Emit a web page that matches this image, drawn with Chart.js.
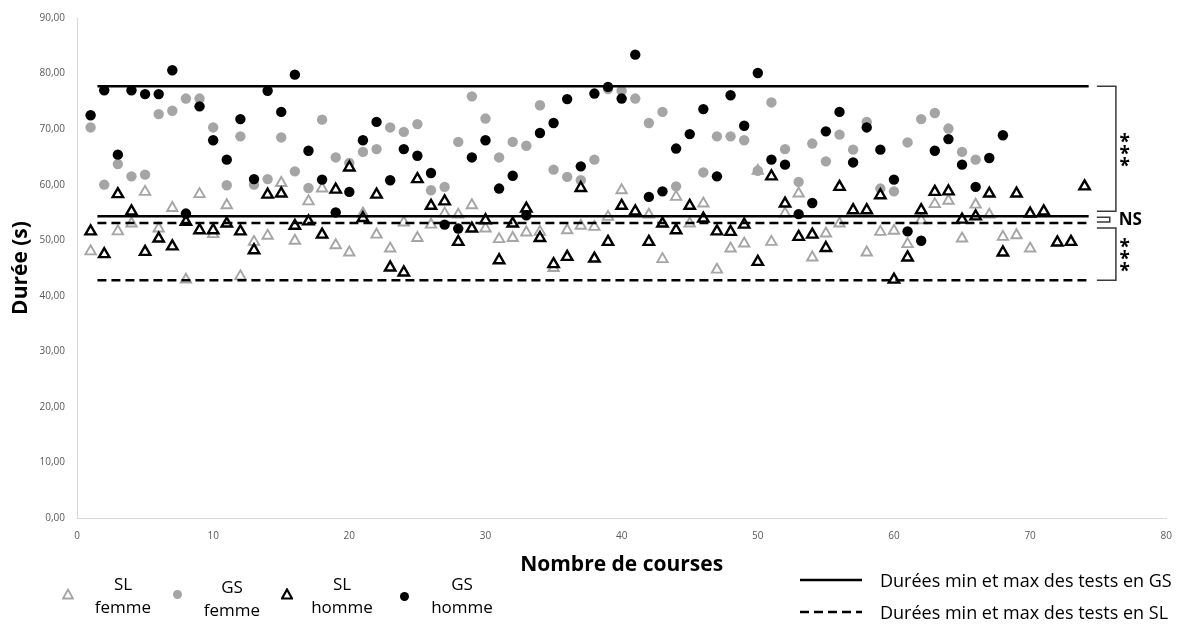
<!DOCTYPE html>
<html lang="fr">
<head>
<meta charset="utf-8">
<title>Durée des courses</title>
<script src="https://cdn.jsdelivr.net/npm/chart.js@4.4.1/dist/chart.umd.min.js"></script>
<style>
  body { margin: 0; background: #fff; font-family: 'Open Sans', sans-serif; }
  #wrap { position: relative; width: 1184px; height: 626px; }
  .leg { position: absolute; top: 572px; text-align: center; font-size: 17px; line-height: 23px; color: #000; transform: translateX(-50%); white-space: nowrap; }
  .mk { position: absolute; }
  .ltxt { position: absolute; left: 880px; font-size: 18px; line-height: 24px; color: #000; white-space: nowrap; }
</style>
</head>
<body>
<div id="wrap">
  <canvas id="chart" width="1184" height="626"></canvas>

  <!-- legend: markers -->
  <svg class="mk" style="left:62px;top:588px" width="12" height="12"><polygon points="6,1.5 11,10.5 1,10.5" fill="#fff" stroke="#a5a5a5" stroke-width="1.8"/></svg>
  <svg class="mk" style="left:172px;top:589px" width="11" height="11"><circle cx="5.5" cy="5.5" r="4.5" fill="#a5a5a5"/></svg>
  <svg class="mk" style="left:281px;top:588px" width="12" height="12"><polygon points="6,1.5 11,10.5 1,10.5" fill="#fff" stroke="#000" stroke-width="2.2"/></svg>
  <svg class="mk" style="left:399px;top:591px" width="11" height="11"><circle cx="5.5" cy="5.5" r="4.5" fill="#000"/></svg>
  <div class="leg" style="left:123px">SL<br>femme</div>
  <div class="leg" style="left:232px;top:575px">GS<br>femme</div>
  <div class="leg" style="left:342px">SL<br>homme</div>
  <div class="leg" style="left:462px">GS<br>homme</div>

  <svg class="mk" style="left:800px;top:574px" width="64" height="44">
    <line x1="0" y1="6" x2="62" y2="6" stroke="#000" stroke-width="2.5"/>
    <line x1="0" y1="38" x2="62" y2="38" stroke="#000" stroke-width="2.5" stroke-dasharray="9 5"/>
  </svg>
  <div class="ltxt" style="top:568px">Durées min et max des tests en GS</div>
  <div class="ltxt" style="top:600px">Durées min et max des tests en SL</div>
</div>
<script>
// numéro de course (axe x)
const courses = [1,2,3,4,5,6,7,8,9,10,11,12,13,14,15,16,17,18,19,20,21,22,23,24,25,26,27,28,29,30,31,32,33,34,35,36,37,38,39,40,41,42,43,44,45,46,47,48,49,50,51,52,53,54,55,56,57,58,59,60,61,62,63,64,65,66,67,68,69,70,71,72,73,74];

// durées (s), une valeur par course, null = pas de point
const slFemme = [48.0,null,51.6,53.0,58.7,52.1,55.8,42.9,58.3,51.1,56.3,43.5,49.7,50.8,60.3,49.9,57.0,59.3,49.1,47.8,
  54.8,51.0,48.5,53.2,50.4,52.8,54.8,54.6,56.3,52.1,50.2,50.4,51.4,51.5,45.0,51.8,52.6,52.4,54.2,59.0,
  55.0,54.6,46.6,57.8,53.0,56.6,44.7,48.5,49.4,62.5,49.7,54.8,58.4,46.9,51.2,53.0,null,47.8,51.5,51.7,
  49.3,53.6,56.5,57.1,50.3,56.4,54.6,50.6,50.9,48.5];
const gsFemme = [70.3,60.0,63.7,61.5,61.8,72.7,73.3,75.5,75.5,70.3,59.9,68.7,60.0,61.0,68.5,62.4,59.4,71.7,64.9,63.9,
  65.9,66.4,70.3,69.5,70.9,59.0,59.6,67.7,75.9,71.9,64.9,67.7,67.0,74.3,62.7,61.4,60.8,64.5,77.2,76.9,
  75.5,71.1,73.1,59.7,null,62.2,68.7,68.7,68.0,62.5,74.8,66.4,60.5,67.4,64.2,69.0,66.3,71.3,59.3,58.8,
  67.6,71.8,72.9,70.1,65.9,64.5];
const slHomme = [51.6,47.5,58.3,55.2,47.9,50.3,48.9,53.3,51.8,51.8,53.0,51.6,48.2,58.2,58.4,52.6,53.4,51.0,59.1,63.1,
  54.0,58.2,45.1,44.2,61.0,56.2,57.0,49.7,52.1,53.6,46.4,53.0,55.7,50.4,45.7,47.0,59.4,46.7,49.7,56.2,
  55.2,49.7,53.0,51.8,56.2,53.9,51.6,51.5,52.8,46.1,61.5,56.6,50.6,51.0,48.6,59.6,55.4,55.4,58.1,42.9,
  46.9,55.4,58.7,58.8,53.7,54.3,58.4,47.8,58.4,54.8,55.2,49.6,49.7,59.7];
const gsHomme = [72.5,77.0,65.4,77.0,76.3,76.3,80.6,54.8,74.1,68.0,64.5,71.8,61.0,76.9,73.1,79.8,66.1,60.9,55.0,58.7,
  68.0,71.3,60.8,66.4,65.2,62.1,52.8,52.1,64.9,68.0,59.3,61.6,54.5,69.3,71.1,75.4,63.3,76.4,77.6,75.5,
  83.4,57.8,58.8,66.5,69.1,73.6,61.5,76.1,70.6,80.1,64.5,63.6,54.7,56.7,69.6,73.1,64.0,70.3,66.3,60.9,
  51.6,49.9,66.1,68.2,63.6,59.6,64.8,68.9];

// durées min et max des tests [min, max] et étendue en x des lignes
const gsMinMax = [54.3, 77.7];
const slMinMax = [42.8, 53.1];
const lineSpan = [1.5, 74.3];

// graduations
const xTicks = [0,10,20,30,40,50,60,70,80];
const yTickLabels = ['0,00','10,00','20,00','30,00','40,00','50,00','60,00','70,00','80,00','90,00'];

function toPoints(values) {
  const pts = [];
  values.forEach((v, i) => { if (v !== null) pts.push({x: courses[i], y: v}); });
  return pts;
}
function hLine(v) {
  return [{x: lineSpan[0], y: v}, {x: lineSpan[1], y: v}];
}

const FONT = "'Open Sans', sans-serif";

// crochets et tests de significativité à droite
const bracketPlugin = {
  id: 'brackets',
  afterDraw(chart) {
    const {ctx, scales: {x, y}} = chart;
    const gsTop = y.getPixelForValue(gsMinMax[1]);
    const gsBot = y.getPixelForValue(gsMinMax[0]);
    const slTop = y.getPixelForValue(slMinMax[1]);
    const slBot = y.getPixelForValue(slMinMax[0]);
    const x0 = x.getPixelForValue(74.9), x1 = x.getPixelForValue(76.3), xm = x.getPixelForValue(75.85);
    ctx.save();
    ctx.strokeStyle = '#3a3a3a';
    ctx.lineWidth = 1.5;
    ctx.beginPath();
    ctx.moveTo(x0, gsTop); ctx.lineTo(x1, gsTop); ctx.lineTo(x1, gsBot - 5); ctx.lineTo(x0, gsBot - 5);
    ctx.moveTo(x0, gsBot + 1); ctx.lineTo(xm, gsBot + 1); ctx.lineTo(xm, slTop - 1); ctx.lineTo(x0, slTop - 1);
    ctx.moveTo(x0, slTop + 5); ctx.lineTo(x1, slTop + 5); ctx.lineTo(x1, slBot); ctx.lineTo(x0, slBot);
    ctx.stroke();

    ctx.fillStyle = '#000';
    ctx.textAlign = 'center';
    ctx.textBaseline = 'alphabetic';
    ctx.font = 'bold 19px ' + FONT;
    const ax = x.getPixelForValue(76.95);
    const up = (gsTop + gsBot - 5) / 2, low = (slTop + 5 + slBot) / 2;
    [-12, 0, 12].forEach(d => {
      ctx.fillText('*', ax, up + d + 11);
      ctx.fillText('*', ax, low + d + 11);
    });
    ctx.textAlign = 'left';
    ctx.textBaseline = 'middle';
    ctx.font = 'bold 17px ' + FONT;
    ctx.fillText('NS', x.getPixelForValue(76.5), (gsBot + slTop) / 2);
    ctx.restore();
  }
};

const ctx = document.getElementById('chart').getContext('2d');
const chart = new Chart(ctx, {
  type: 'scatter',
  data: {
    datasets: [
      {label: 'GS max', data: hLine(gsMinMax[1]), showLine: true, borderColor: '#000', borderWidth: 2.5, pointRadius: 0, order: 0},
      {label: 'GS min', data: hLine(gsMinMax[0]), showLine: true, borderColor: '#000', borderWidth: 2.5, pointRadius: 0, order: 0},
      {label: 'SL max', data: hLine(slMinMax[1]), showLine: true, borderColor: '#000', borderWidth: 2.5, borderDash: [9, 5], pointRadius: 0, order: 0},
      {label: 'SL min', data: hLine(slMinMax[0]), showLine: true, borderColor: '#000', borderWidth: 2.5, borderDash: [9, 5], pointRadius: 0, order: 0},
      {label: 'GS homme', data: toPoints(gsHomme), pointStyle: 'circle', pointRadius: 5.2, backgroundColor: '#000', borderWidth: 0, order: 1},
      {label: 'SL homme', data: toPoints(slHomme), pointStyle: 'triangle', pointRadius: 6, backgroundColor: '#fff', borderColor: '#000', borderWidth: 2.4, order: 2},
      {label: 'GS femme', data: toPoints(gsFemme), pointStyle: 'circle', pointRadius: 5.2, backgroundColor: '#a5a5a5', borderWidth: 0, order: 3},
      {label: 'SL femme', data: toPoints(slFemme), pointStyle: 'triangle', pointRadius: 6, backgroundColor: '#fff', borderColor: '#a5a5a5', borderWidth: 1.9, order: 4}
    ]
  },
  options: {
    responsive: false,
    animation: false,
    events: [],
    layout: {padding: {left: 0, top: 15, right: 14, bottom: 48}},
    plugins: {legend: {display: false}, tooltip: {enabled: false}},
    scales: {
      x: {
        type: 'linear', min: 0, max: 80,
        afterBuildTicks: s => { s.ticks = xTicks.map(v => ({value: v})); },
        ticks: {padding: 12, color: '#595959', font: {family: FONT, size: 10}},
        grid: {display: false, drawTicks: false},
        border: {display: true, color: '#d9d9d9', width: 1},
        title: {display: true, text: 'Nombre de courses', color: '#000', padding: 0, font: {family: FONT, size: 21, weight: 'bold'}},
        afterFit: s => { s.height = 60; }
      },
      y: {
        type: 'linear', min: 0, max: 90,
        ticks: {stepSize: 10, padding: 12, color: '#595959', font: {family: FONT, size: 10},
          callback: (v, i) => yTickLabels[i]},
        grid: {display: false, drawTicks: false},
        border: {display: true, color: '#d9d9d9', width: 1},
        title: {display: true, text: 'Durée (s)', color: '#000', padding: {top: 8, bottom: 0}, font: {family: FONT, size: 21, weight: 'bold'}},
        afterFit: s => { s.width = 77; }
      }
    }
  },
  plugins: [bracketPlugin]
});
</script>
</body>
</html>
